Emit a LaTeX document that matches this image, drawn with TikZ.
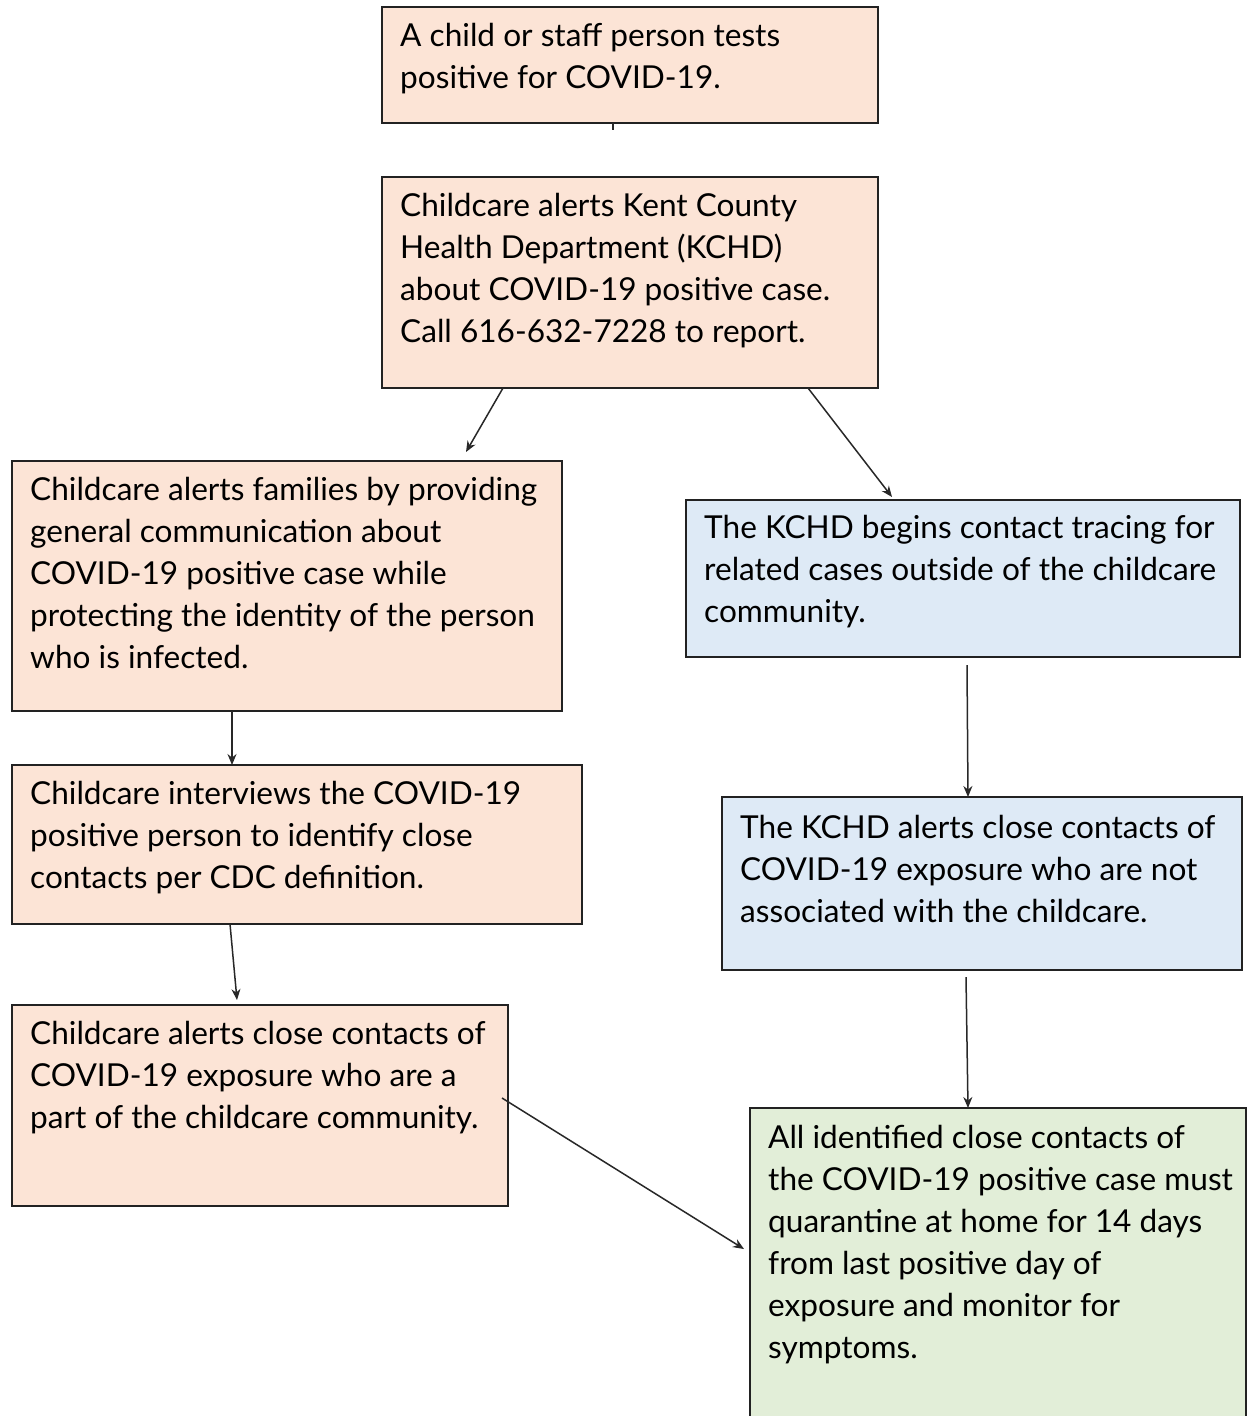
\documentclass[tikz,border=0pt]{standalone}
\usepackage{fontspec}
\setmainfont{Lato}
\usetikzlibrary{calc,arrows.meta}
\definecolor{peach}{RGB}{252,228,214}
\definecolor{bluebox}{RGB}{222,234,246}
\definecolor{greenbox}{RGB}{226,238,216}
\definecolor{edge}{RGB}{34,34,34}
\definecolor{arrowc}{RGB}{40,40,40}
\tikzset{
  box/.style={draw=edge, line width=1.6pt, anchor=north west, inner sep=0pt, outer sep=0pt},
  pbox/.style={box, fill=peach},
  bbox/.style={box, fill=bluebox},
  gbox/.style={box, fill=greenbox},
  txt/.style={anchor=north west, inner sep=0pt, align=left, font=\fontsize{31.6}{42}\selectfont, text=black},
  arr/.style={draw=arrowc, line width=1.5pt, -{Stealth[length=11pt,width=9pt]}},
  tick/.style={draw=arrowc, line width=1.6pt}
}
\begin{document}
\begin{tikzpicture}[x=1pt,y=1pt]
\clip (0,0) rectangle (1248,-1416);
\fill[white] (0,0) rectangle (1248,-1416);
% boxes
\node[pbox, minimum width=496pt, minimum height=116pt] (b1) at (382,-7) {};
\node[pbox, minimum width=496pt, minimum height=211pt] (b2) at (382,-177) {};
\node[pbox, minimum width=550pt, minimum height=250pt] (b3) at (12,-461) {};
\node[bbox, minimum width=554pt, minimum height=157pt] (b4) at (686,-500) {};
\node[pbox, minimum width=570pt, minimum height=159pt] (b5) at (12,-765) {};
\node[bbox, minimum width=520pt, minimum height=173pt] (b6) at (722,-797) {};
\node[pbox, minimum width=496pt, minimum height=201pt] (b7) at (12,-1005) {};
\node[gbox, minimum width=496pt, minimum height=340pt] (b8) at (750,-1108) {};
% texts
\node[txt] (t1) at (400,-23) {A child or staff person tests\\positive for COVID-19.};
\node[txt] (t2) at (400,-193) {Childcare alerts Kent County\\Health Department (KCHD)\\about COVID-19 positive case.\\Call 616-632-7228 to report.};
\node[txt] (t3) at (30,-477) {Childcare alerts families by providing\\general communication about\\COVID-19 positive case while\\protecting the identity of the person\\who is infected.};
\node[txt] (t4) at (704,-515) {The KCHD begins contact tracing for\\related cases outside of the childcare\\community.};
\node[txt] (t5) at (30,-781) {Childcare interviews the COVID-19\\positive person to identify close\\contacts per CDC definition.};
\node[txt] (t6) at (740,-815) {The KCHD alerts close contacts of\\COVID-19 exposure who are not\\associated with the childcare.};
\node[txt] (t7) at (30,-1021) {Childcare alerts close contacts of\\COVID-19 exposure who are a\\part of the childcare community.};
\node[txt] (t8) at (768,-1125) {All identified close contacts of\\the COVID-19 positive case must\\quarantine at home for 14 days\\from last positive day of\\exposure and monitor for\\symptoms.};
% connector end points
\coordinate (c1) at ($(b1.south west)+(231,-7)$);
\coordinate (c2a) at ($(b2.south west)+(121,0)$);
\coordinate (c2b) at ($(b3.north west)+(454,9)$);
\coordinate (c3a) at ($(b2.south west)+(426,0)$);
\coordinate (c3b) at ($(b4.north west)+(206,3)$);
\coordinate (c4a) at ($(b3.south west)+(220,0)$);
\coordinate (c4b) at ($(b5.north west)+(220,0)$);
\coordinate (c5a) at ($(b5.south west)+(218,0)$);
\coordinate (c5b) at ($(b7.north west)+(225,5)$);
\coordinate (c6a) at ($(b4.south west)+(281,-8)$);
\coordinate (c6b) at ($(b6.north west)+(246,0)$);
\coordinate (c7a) at ($(b6.south west)+(244,-7)$);
\coordinate (c7b) at ($(b8.north west)+(218,0)$);
\coordinate (c8a) at ($(b7.north east)+(-6,-93)$);
\coordinate (c8b) at ($(b8.north west)+(-6,-141)$);
% connectors
\draw[tick] ($(b1.south west)+(231,0)$) -- (c1);
\draw[arr] (c2a) -- (c2b);
\draw[arr] (c3a) -- (c3b);
\draw[arr] (c4a) -- (c4b);
\draw[arr] (c5a) -- (c5b);
\draw[arr] (c6a) -- (c6b);
\draw[arr] (c7a) -- (c7b);
\draw[arr] (c8a) -- (c8b);
\end{tikzpicture}
\end{document}
